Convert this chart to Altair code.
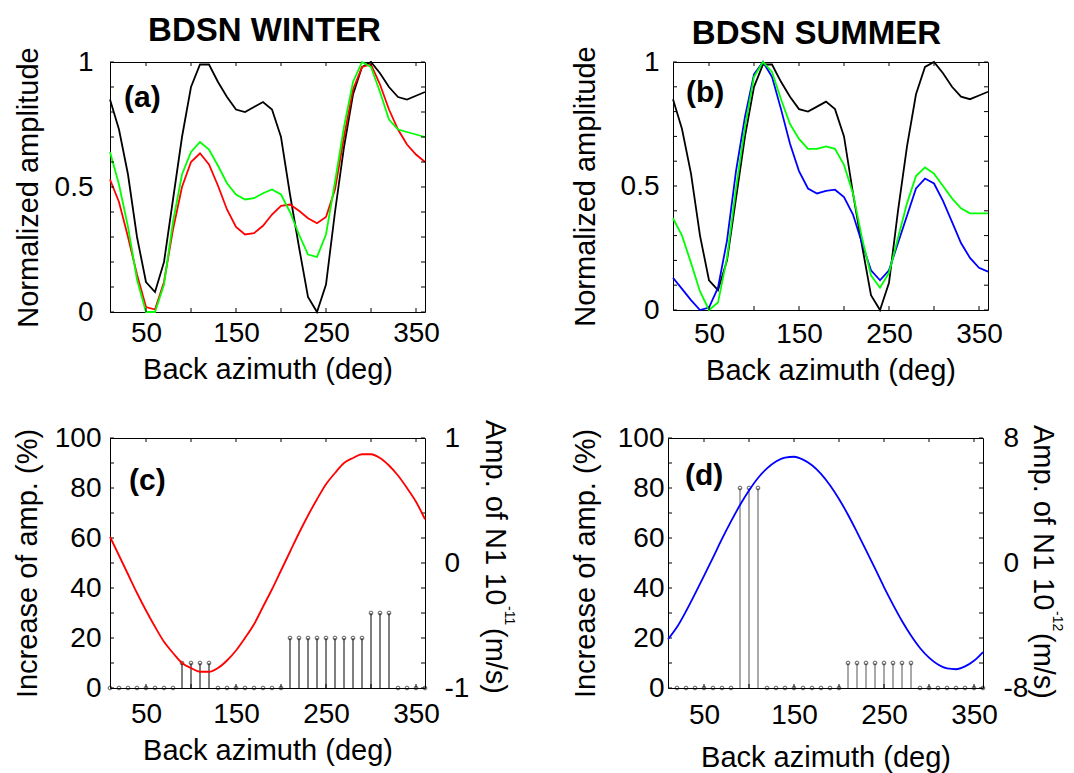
import altair as alt
import pandas as pd

FONT = "Liberation Sans"

# ---------------- data ----------------
AZ = [10, 20, 30, 40, 50, 60, 70, 80, 90, 100, 110, 120, 130, 140, 150, 160, 170, 180,
      190, 200, 210, 220, 230, 240, 250, 260, 270, 280, 290, 300, 310, 320, 330, 340, 350, 360]

# reference (all data) normalized amplitude, black in (a) and (b)
BLACK_ALL = [0.85, 0.73, 0.55, 0.30, 0.12, 0.08, 0.20, 0.45, 0.70, 0.90, 0.99, 0.99, 0.92, 0.86,
             0.81, 0.80, 0.82, 0.84, 0.81, 0.70, 0.47, 0.26, 0.06, 0.00, 0.11, 0.40, 0.66, 0.87,
             0.98, 1.00, 0.955, 0.90, 0.86, 0.85, 0.865, 0.88]
A_RED = [0.53, 0.44, 0.30, 0.15, 0.02, 0.01, 0.12, 0.33, 0.50, 0.60, 0.635, 0.59, 0.505, 0.41,
         0.34, 0.31, 0.315, 0.345, 0.39, 0.425, 0.43, 0.405, 0.375, 0.355, 0.38, 0.49, 0.70, 0.89,
         0.98, 0.99, 0.91, 0.81, 0.73, 0.67, 0.63, 0.60]
A_GREEN = [0.64, 0.51, 0.34, 0.13, 0.00, 0.00, 0.11, 0.36, 0.55, 0.64, 0.68, 0.65, 0.585, 0.515,
           0.47, 0.45, 0.455, 0.475, 0.49, 0.47, 0.40, 0.31, 0.23, 0.22, 0.31, 0.52, 0.74, 0.92,
           1.00, 0.98, 0.88, 0.77, 0.73, 0.72, 0.71, 0.70]
B_BLUE = [0.13, 0.085, 0.04, 0.00, 0.01, 0.09, 0.28, 0.56, 0.78, 0.95, 1.00, 0.94, 0.81, 0.67,
          0.56, 0.49, 0.47, 0.48, 0.485, 0.455, 0.385, 0.27, 0.16, 0.12, 0.16, 0.27, 0.38, 0.49,
          0.53, 0.51, 0.44, 0.355, 0.27, 0.21, 0.17, 0.155]
B_GREEN = [0.37, 0.30, 0.19, 0.075, 0.00, 0.03, 0.21, 0.49, 0.74, 0.94, 1.00, 0.96, 0.85, 0.75,
           0.69, 0.65, 0.65, 0.66, 0.65, 0.585, 0.47, 0.29, 0.14, 0.09, 0.15, 0.29, 0.43, 0.54,
           0.575, 0.55, 0.50, 0.45, 0.41, 0.39, 0.39, 0.39]

# (c) winter: increase of amplitude (%) stems and N1 amplitude (1e-11 m/s)
C_STEM = [0, 0, 0, 0, 0, 0, 0, 0, 10, 10, 10, 10, 0, 0, 0, 0, 0, 0, 0, 0,
          20, 20, 20, 20, 20, 20, 20, 20, 20, 30, 30, 30, 0, 0, 0, 0]
C_N1 = [0.21, 0.06, -0.09, -0.24, -0.38, -0.51, -0.63, -0.72, -0.80, -0.84, -0.87, -0.87,
        -0.84, -0.78, -0.70, -0.60, -0.49, -0.35, -0.21, -0.06, 0.09, 0.24, 0.38, 0.51,
        0.63, 0.72, 0.80, 0.84, 0.87, 0.87, 0.84, 0.78, 0.70, 0.60, 0.49, 0.35]

# (d) summer: stems start at 20 deg; N1 amplitude (1e-12 m/s)
D_AZ = [20, 30, 40, 50, 60, 70, 80, 90, 100, 110, 120, 130, 140, 150, 160, 170, 180,
        190, 200, 210, 220, 230, 240, 250, 260, 270, 280, 290, 300, 310, 320, 330, 340, 350, 360]
D_STEM = [0, 0, 0, 0, 0, 0, 0, 80, 80, 80, 0, 0, 0, 0, 0, 0, 0, 0, 0,
          10, 10, 10, 10, 10, 10, 10, 10, 0, 0, 0, 0, 0, 0, 0, 0]
D_N1 = [-4.88, -4.10, -3.09, -1.98, -0.83, 0.35, 1.54, 2.66, 3.71, 4.64, 5.44, 6.06, 6.50,
        6.75, 6.80, 6.62, 6.26, 5.71, 4.98, 4.10, 3.09, 1.98, 0.83, -0.35, -1.54, -2.66,
        -3.71, -4.64, -5.44, -6.06, -6.50, -6.75, -6.80, -6.62, -6.26, -5.70]

X_TICKS = [50, 100, 150, 200, 250, 300, 350]
X_LABELS = [50, 150, 250, 350]
NORM_TICKS = [0.1 * i for i in range(11)]
PCT_TICKS = [10 * i for i in range(11)]

W, H = 315, 250
XDOM = [10, 360]
PLAIN = "datum.value < 0 ? '-' + toString(-datum.value) : toString(datum.value)"


def xscale():
    return alt.Scale(domain=XDOM, nice=False, zero=False)


def x_axis(lab_pad, title_pad):
    return alt.Axis(values=X_LABELS, title="Back azimuth (deg)", labelPadding=lab_pad,
                    titlePadding=title_pad, labelFlush=False, labelOverlap=False)


def inward_ticks(yvals, ydom, h):
    dfx = pd.DataFrame({"t": X_TICKS})
    dfy = pd.DataFrame({"t": yvals})
    ys = alt.Scale(domain=ydom, nice=False, zero=False)
    common = dict(color="black", strokeWidth=1)
    bx = alt.Chart(dfx).mark_rule(**common).encode(
        x=alt.X("t:Q", scale=xscale()), y=alt.value(h), y2=alt.value(h - 4))
    tx = alt.Chart(dfx).mark_rule(**common).encode(
        x=alt.X("t:Q", scale=xscale()), y=alt.value(0), y2=alt.value(4))
    ly = alt.Chart(dfy).mark_rule(**common).encode(
        y=alt.Y("t:Q", scale=ys), x=alt.value(0), x2=alt.value(4))
    ry = alt.Chart(dfy).mark_rule(**common).encode(
        y=alt.Y("t:Q", scale=ys), x=alt.value(W), x2=alt.value(W - 4))
    return [bx, tx, ly, ry]


def text_at(txt, x, y, size=30, bold=True, angle=0, align="left", baseline="middle"):
    return alt.Chart(pd.DataFrame({"k": [0]})).mark_text(
        text=txt, fontSize=size, fontWeight="bold" if bold else "normal", font=FONT,
        align=align, baseline=baseline, angle=angle, color="black"
    ).encode(x=alt.value(x), y=alt.value(y))


def norm_panel(title, label, series, h, title_dx, title_dy, ylab_pad, ytitle_pad,
               xlab_pad, xtitle_pad, lab_xy):
    layers = []
    first = True
    for vals, col in series:
        df = pd.DataFrame({"az": AZ, "v": vals})
        ysc = alt.Scale(domain=[0, 1], nice=False, zero=False)
        if first:
            xe = alt.X("az:Q", scale=xscale(), axis=x_axis(xlab_pad, xtitle_pad))
            ye = alt.Y("v:Q", scale=ysc,
                       axis=alt.Axis(values=[0, 0.5, 1], title="Normalized amplitude",
                                     labelExpr=PLAIN,
                                     labelPadding=ylab_pad, titlePadding=ytitle_pad))
        else:
            xe = alt.X("az:Q", scale=xscale())
            ye = alt.Y("v:Q", scale=ysc)
        first = False
        layers.append(alt.Chart(df).mark_line(color=col, strokeWidth=1.8).encode(x=xe, y=ye))
    layers += inward_ticks(NORM_TICKS, [0, 1], h)
    layers.append(text_at(label, lab_xy[0], lab_xy[1]))
    return alt.layer(*layers).properties(
        width=W, height=h,
        title=alt.TitleParams(title, fontSize=33, fontWeight="bold", font=FONT, color="black",
                              anchor="middle", frame="group", dx=title_dx, dy=title_dy,
                              offset=0))


def stem_panel(label, az, stems, n1, n1dom, n1vals, curve_color, stem_color, sup,
               ylab_pad, ytitle_pad, xlab_pad, xtitle_pad, lab_xy, rlab_pad, rt_x, rt_y):
    dfs = pd.DataFrame({"az": az, "v": stems})
    ys = alt.Scale(domain=[0, 100], nice=False, zero=False)
    stem_rule = alt.Chart(dfs).mark_rule(color=stem_color, strokeWidth=1).encode(
        x=alt.X("az:Q", scale=xscale(), axis=x_axis(xlab_pad, xtitle_pad)),
        y=alt.Y("v:Q", scale=ys, axis=alt.Axis(values=[0, 20, 40, 60, 80, 100],
                                               title="Increase of amp. (%)",
                                               labelPadding=ylab_pad, titlePadding=ytitle_pad)),
        y2=alt.datum(0))
    stem_pts = alt.Chart(dfs).mark_point(shape="circle", filled=False, size=14,
                                         color="black", strokeWidth=0.9).encode(
        x=alt.X("az:Q", scale=xscale()),
        y=alt.Y("v:Q", scale=ys))
    left = alt.layer(stem_rule, stem_pts, *inward_ticks(PCT_TICKS, [0, 100], H))

    dfc = pd.DataFrame({"az": AZ, "a": n1})
    curve = alt.Chart(dfc).mark_line(color=curve_color, strokeWidth=1.8,
                                      interpolate="monotone").encode(
        x=alt.X("az:Q", scale=xscale()),
        y=alt.Y("a:Q", scale=alt.Scale(domain=n1dom, nice=False, zero=False),
                axis=alt.Axis(orient="right", values=n1vals, title=None,
                              labelPadding=rlab_pad, labelExpr=PLAIN)))

    t1 = text_at("Amp. of N1 10", W + rt_x, rt_y, size=29, bold=False, angle=90)
    t2 = text_at(sup, W + rt_x + 14, rt_y + 186, size=14, bold=False, angle=90)
    t3 = text_at("(m/s)", W + rt_x, rt_y + 208, size=29, bold=False, angle=90)
    lab = text_at(label, lab_xy[0], lab_xy[1])
    return alt.layer(left, curve, t1, t2, t3, lab).resolve_scale(y="independent").properties(
        width=W, height=H)


pa = norm_panel("BDSN WINTER", "(a)", [(BLACK_ALL, "#000000"), (A_RED, "#ff0000"), (A_GREEN, "#00ff00")],
                H, -3, 1, 17, 11, 7, 8, (14, 36))
pb = norm_panel("BDSN SUMMER", "(b)", [(BLACK_ALL, "#000000"), (B_BLUE, "#0000ff"), (B_GREEN, "#00ff00")],
                248, -14, 5, 14, 20, 10, 8, (13, 31))
pc = stem_panel("(c)", AZ, C_STEM, C_N1, [-1, 1], [-1, 0, 1], "#ff0000", "#000000", "-11",
                9, 12, 12, 8, (19, 43), 19, 70, -18)
pd_ = stem_panel("(d)", D_AZ, D_STEM, D_N1, [-8, 8], [-8, 0, 8], "#0000ff", "#555555", "-12",
                 4, 17, 13, 14, (17, 38), 20, 60, -13)

chart = alt.vconcat(
    alt.hconcat(pa, pb, spacing=130),
    alt.hconcat(pc, pd_, spacing=53),
    spacing=33,
).properties(
    padding={"left": 12, "top": 14, "right": 5, "bottom": 5},
    background="white",
).configure_view(
    stroke="black", strokeWidth=1
).configure_axis(
    labelFont=FONT, labelFontSize=28, labelColor="black",
    titleFont=FONT, titleFontSize=29, titleFontWeight="normal", titleColor="black",
    grid=False, ticks=False, domain=False,
)

chart.save("out.html", embed_options={"renderer": "svg", "actions": False})
